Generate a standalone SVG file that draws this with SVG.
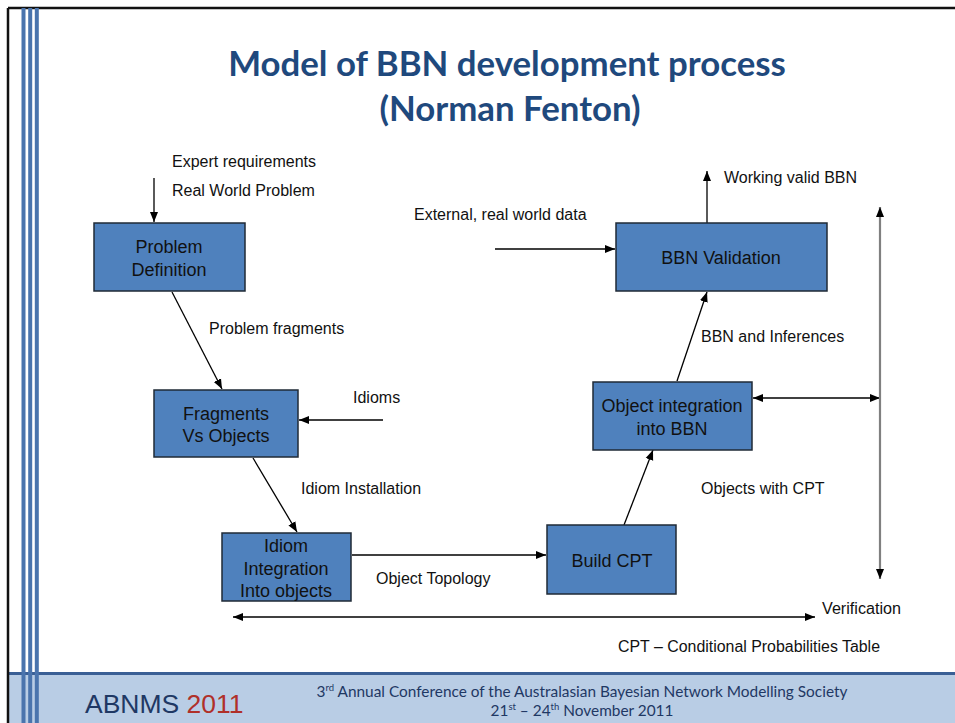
<svg xmlns="http://www.w3.org/2000/svg" width="955" height="723" viewBox="0 0 955 723">
<style>
.node rect{fill:#4f81bd;stroke:#1f2a36;stroke-width:1.5}
.node text{font-family:"Liberation Sans",Arial,sans-serif;font-size:18px;fill:#111;text-anchor:middle}
.lbl{font-family:"Liberation Sans",Arial,sans-serif;font-size:16px;fill:#111}
.conn line{stroke:#000;stroke-width:1.3}
.title{font-family:Lato,"Open Sans",sans-serif;font-weight:bold;font-size:34.8px;fill:#1f497d;text-anchor:middle}
.foot{font-family:Lato,"Open Sans",sans-serif;font-size:15.4px;fill:#1f3864;text-anchor:middle}
</style>
<defs>
<marker id="ah" markerUnits="userSpaceOnUse" markerWidth="10" markerHeight="10" viewBox="0 0 10 10" refX="10" refY="5" orient="auto-start-reverse">
<path d="M0,1 L10,5 L0,9 z" fill="#000"/>
</marker>
</defs>
<rect x="0" y="0" width="955" height="723" fill="#fff"/>
<!-- footer band -->
<rect x="8" y="674" width="947" height="49" fill="#b9cde5"/>
<rect x="8" y="672" width="947" height="3" fill="#3a5f95"/>
<!-- frame -->
<line x1="8" y1="8" x2="955" y2="8" stroke="#111" stroke-width="2.5"/>
<line x1="8" y1="8" x2="8" y2="723" stroke="#111" stroke-width="2.5"/>
<!-- stripes -->
<rect x="21.5" y="8" width="4" height="715" fill="#4a74ad"/>
<rect x="28.2" y="8" width="4" height="715" fill="#4a74ad"/>
<rect x="34.8" y="8" width="4" height="715" fill="#4a74ad"/>
<!-- title -->
<text class="title" x="507" y="76">Model of BBN development process</text>
<text class="title" x="510" y="121">(Norman Fenton)</text>
<!-- connectors -->
<g id="connectors" class="conn">
<line x1="154" y1="178" x2="154" y2="222" marker-end="url(#ah)"/>
<line x1="172" y1="292" x2="222" y2="389" marker-end="url(#ah)"/>
<line x1="383" y1="420" x2="299" y2="420" marker-end="url(#ah)"/>
<line x1="253" y1="458" x2="297" y2="532" marker-end="url(#ah)"/>
<line x1="352" y1="555" x2="546" y2="555" marker-end="url(#ah)"/>
<line x1="624" y1="525" x2="653" y2="450" marker-end="url(#ah)"/>
<line x1="677" y1="381" x2="707" y2="292" marker-end="url(#ah)"/>
<line x1="707" y1="223" x2="707" y2="171" marker-end="url(#ah)"/>
<line x1="495" y1="249" x2="615" y2="249" marker-end="url(#ah)"/>
<line x1="753" y1="398" x2="880" y2="398" marker-start="url(#ah)" marker-end="url(#ah)"/>
<line x1="880" y1="207" x2="880" y2="579" style="stroke:#808080;stroke-width:2.2" marker-start="url(#ah)" marker-end="url(#ah)"/>
<line x1="233" y1="617" x2="815" y2="617" marker-start="url(#ah)" marker-end="url(#ah)"/>
</g>
<!-- labels -->
<text class="lbl" x="172" y="167">Expert requirements</text>
<text class="lbl" x="172" y="196">Real World Problem</text>
<text class="lbl" x="209" y="334">Problem fragments</text>
<text class="lbl" x="353" y="403">Idioms</text>
<text class="lbl" x="301" y="494">Idiom Installation</text>
<text class="lbl" x="376" y="584">Object Topology</text>
<text class="lbl" x="701" y="494">Objects with CPT</text>
<text class="lbl" x="701" y="342">BBN and Inferences</text>
<text class="lbl" x="724" y="183">Working valid BBN</text>
<text class="lbl" x="414" y="220">External, real world data</text>
<text class="lbl" x="822" y="614" textLength="79" lengthAdjust="spacingAndGlyphs">Verification</text>
<text class="lbl" x="618" y="652" textLength="262" lengthAdjust="spacingAndGlyphs">CPT – Conditional Probabilities Table</text>
<!-- nodes -->
<g id="problem-definition" class="node">
<rect x="94" y="223" width="151" height="68"/>
<text x="169" y="253">Problem</text>
<text x="169" y="276">Definition</text>
</g>
<g id="fragments-vs-objects" class="node">
<rect x="154" y="390" width="144" height="67"/>
<text x="226" y="420">Fragments</text>
<text x="226" y="442">Vs Objects</text>
</g>
<g id="idiom-integration" class="node">
<rect x="222" y="533" width="129" height="68"/>
<text x="286" y="552">Idiom</text>
<text x="286" y="575">Integration</text>
<text x="286" y="597">Into objects</text>
</g>
<g id="build-cpt" class="node">
<rect x="547" y="525" width="129" height="69"/>
<text x="612" y="567">Build CPT</text>
</g>
<g id="object-integration" class="node">
<rect x="593" y="382" width="159" height="68"/>
<text x="672" y="412">Object integration</text>
<text x="672" y="435">into BBN</text>
</g>
<g id="bbn-validation" class="node">
<rect x="616" y="223" width="211" height="68"/>
<text x="721" y="264">BBN Validation</text>
</g>
<!-- footer -->
<text x="85" y="713" style="font-family:'Liberation Sans',Arial,sans-serif;font-size:26.5px;fill:#1f3864">ABNMS <tspan fill="#b0302a">2011</tspan></text>
<text class="foot" x="582" y="697">3<tspan font-size="9.5" dy="-6">rd</tspan><tspan dy="6"> Annual Conference of the Australasian Bayesian Network Modelling Society</tspan></text>
<text class="foot" x="582" y="716">21<tspan font-size="9.5" dy="-6">st</tspan><tspan dy="6"> – 24</tspan><tspan font-size="9.5" dy="-6">th</tspan><tspan dy="6"> November 2011</tspan></text>
</svg>
